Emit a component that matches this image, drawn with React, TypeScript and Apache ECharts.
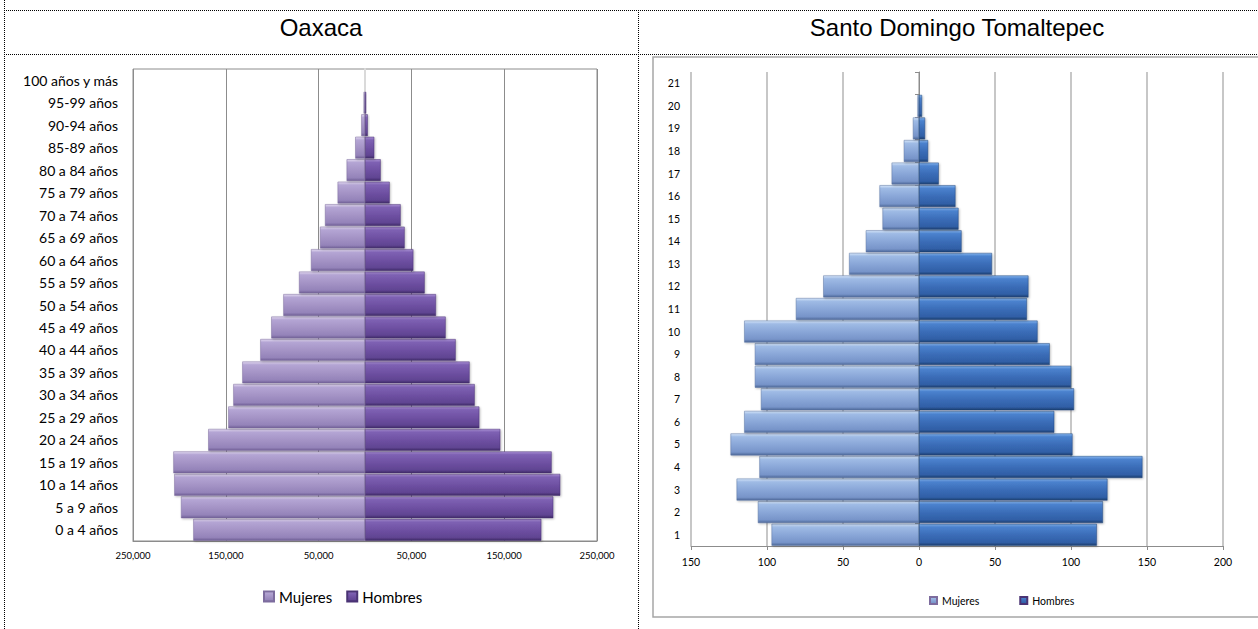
import React, { useEffect, useRef } from "react";
import * as echarts from "echarts";

// ---------- Data ----------
const oaxacaAges = [
  "0 a 4 años", "5 a 9 años", "10 a 14 años", "15 a 19 años", "20 a 24 años",
  "25 a 29 años", "30 a 34 años", "35 a 39 años", "40 a 44 años", "45 a 49 años",
  "50 a 54 años", "55 a 59 años", "60 a 64 años", "65 a 69 años", "70 a 74 años",
  "75 a 79 años", "80 a 84 años", "85-89 años", "90-94 años", "95-99 años", "100 años y más",
];
const oaxacaMujeres = [
  185000, 198300, 205500, 206500, 168900, 147300, 141900, 132200, 112800, 101000,
  88000, 71100, 58200, 48500, 43100, 29500, 19800, 10500, 4000, 1500, 400,
];
const oaxacaHombres = [
  190000, 202900, 210400, 201100, 145800, 123200, 118200, 112700, 97700, 86900,
  76500, 64300, 52100, 42700, 38400, 26600, 16900, 10000, 3000, 1200, 200,
];

const tomCats = [
  "1", "2", "3", "4", "5", "6", "7", "8", "9", "10", "11",
  "12", "13", "14", "15", "16", "17", "18", "19", "20", "21",
];
const tomMujeres = [97, 106, 120, 105, 124, 115, 104, 108, 108, 115, 81, 63, 46, 35, 24, 26, 18, 10, 4, 1, 0];
const tomHombres = [117, 121, 124, 147, 101, 89, 102, 100, 86, 78, 71, 72, 48, 28, 26, 24, 13, 6, 4, 2, 0];

const leftTitle = "Oaxaca";
const rightTitle = "Santo Domingo Tomaltepec";

// ---------- Styles ----------
function grad(c: string[]) {
  return new echarts.graphic.LinearGradient(0, 0, 0, 1, [
    { offset: 0, color: c[0] },
    { offset: 0.14, color: c[1] },
    { offset: 0.5, color: c[2] },
    { offset: 0.86, color: c[3] },
    { offset: 1, color: c[4] },
  ]);
}
const oaxM = ["#e2d9f0", "#b4a5d4", "#a594c6", "#9483b9", "#6f5e95"];
const oaxH = ["#a98fd4", "#7e61b3", "#6f51a3", "#604492", "#3e2a66"];
const tomM = ["#d6e6fa", "#9fbbe5", "#8aa7d8", "#7794c9", "#4d6898"];
const tomH = ["#85b5ef", "#4b82ce", "#3b6db8", "#305fa6", "#1c3e6f"];

const FONT = "Lato, 'Open Sans', sans-serif";

export default function App() {
  const ref = useRef<HTMLDivElement>(null);

  useEffect(() => {
    if (!ref.current) return;
    const chart = echarts.init(ref.current, undefined, { renderer: "svg" });

    const shadow = {
      shadowBlur: 2,
      shadowColor: "rgba(0,0,0,0.25)",
      shadowOffsetX: 1,
      shadowOffsetY: 1,
    };

    const dotted = { stroke: "#000", lineWidth: 1, lineDash: [1, 1] };

    const option: any = {
      animation: false,
      textStyle: { fontFamily: FONT },
      graphic: [
        { type: "line", shape: { x1: 4.5, y1: 0, x2: 4.5, y2: 629 }, style: dotted },
        { type: "line", shape: { x1: 638.5, y1: 10, x2: 638.5, y2: 629 }, style: dotted },
        { type: "line", shape: { x1: 4, y1: 10.5, x2: 1258, y2: 10.5 }, style: dotted },
        { type: "line", shape: { x1: 4, y1: 54.5, x2: 1258, y2: 54.5 }, style: dotted },
        {
          type: "rect",
          shape: { x: 653, y: 57, width: 640, height: 560 },
          style: { fill: "transparent", stroke: "#a6a6a6", lineWidth: 1.5 },
          silent: true,
        },
        {
          type: "text",
          x: 321,
          y: 27,
          style: {
            text: leftTitle,
            fontFamily: "'Liberation Sans', Arial, sans-serif",
            fontSize: 24,
            fill: "#000",
            align: "center",
            verticalAlign: "middle",
          },
        },
        {
          type: "text",
          x: 957,
          y: 27,
          style: {
            text: rightTitle,
            fontFamily: "'Liberation Sans', Arial, sans-serif",
            fontSize: 24,
            fill: "#000",
            align: "center",
            verticalAlign: "middle",
          },
        },
      ],
      legend: [
        {
          left: 258,
          top: 584,
          icon: "rect",
          itemWidth: 10,
          itemHeight: 10,
          itemGap: 14,
          textStyle: { fontSize: 15, color: "#000", fontFamily: FONT },
          data: [
            { name: "Mujeres", itemStyle: { color: grad(oaxM) } },
            { name: "Hombres", itemStyle: { color: grad(oaxH) } },
          ],
        },
        {
          left: 924,
          top: 590,
          icon: "rect",
          itemWidth: 7,
          itemHeight: 7,
          itemGap: 40,
          textStyle: { fontSize: 10.5, color: "#000", fontFamily: FONT },
          data: [
            { name: "Mujeres", itemStyle: { color: grad(tomM) } },
            { name: "Hombres", itemStyle: { color: grad(tomH) } },
          ],
        },
      ],
      grid: [
        {
          left: 133,
          top: 69,
          width: 464,
          height: 472,
          show: true,
          borderColor: "#8c8c8c",
          borderWidth: 1,
          backgroundColor: "transparent",
        },
        { left: 691, top: 72, width: 532, height: 474 },
      ],
      xAxis: [
        {
          type: "value",
          gridIndex: 0,
          min: -250000,
          max: 250000,
          interval: 100000,
          axisLine: { show: true, onZero: false, lineStyle: { color: "#8c8c8c" } },
          axisTick: { show: false },
          splitLine: { show: true, lineStyle: { color: "#8c8c8c", width: 1 } },
          axisLabel: {
            formatter: (v: number) => Math.abs(v).toLocaleString("en-US"),
            fontSize: 9.5,
            color: "#000",
            margin: 9,
            fontFamily: FONT,
          },
        },
        {
          type: "value",
          gridIndex: 1,
          min: -150,
          max: 200,
          interval: 50,
          axisLine: { show: true, onZero: false, lineStyle: { color: "#8c8c8c" } },
          axisTick: { show: true, length: 4, lineStyle: { color: "#8c8c8c" } },
          splitLine: { show: true, lineStyle: { color: "#b5b5b5", width: 1.5 } },
          axisLabel: {
            formatter: (v: number) => String(Math.abs(v)),
            fontSize: 10.5,
            color: "#000",
            margin: 10,
            fontFamily: FONT,
          },
        },
      ],
      yAxis: [
        {
          type: "category",
          gridIndex: 0,
          data: oaxacaAges,
          position: "left",
          axisLine: { show: false, onZero: false },
          axisTick: { show: false },
          axisLabel: { fontSize: 14, color: "#000", margin: 15, fontFamily: FONT },
        },
        {
          type: "category",
          gridIndex: 0,
          data: oaxacaAges,
          position: "left",
          axisLine: { show: true, onZero: true, lineStyle: { color: "#dadada", width: 2 } },
          axisTick: { show: false },
          axisLabel: { show: false },
        },
        {
          type: "category",
          gridIndex: 1,
          data: tomCats,
          position: "left",
          axisLine: { show: false, onZero: false },
          axisTick: { show: false },
          axisLabel: { fontSize: 10.5, color: "#000", margin: 11, fontFamily: FONT },
        },
        {
          type: "category",
          gridIndex: 1,
          data: tomCats,
          position: "left",
          axisLine: { show: true, onZero: true, lineStyle: { color: "#8c8c8c", width: 1 } },
          axisTick: { show: true, length: 4, lineStyle: { color: "#8c8c8c" } },
          axisLabel: { show: false },
        },
      ],
      series: [
        {
          name: "Mujeres",
          type: "bar",
          xAxisIndex: 0,
          yAxisIndex: 0,
          data: oaxacaMujeres.map((v) => -v),
          barGap: "-100%",
          barCategoryGap: "3%",
          itemStyle: { color: grad(oaxM), borderColor: "#7d6c9e", borderWidth: 0.5, ...shadow },
        },
        {
          name: "Hombres",
          type: "bar",
          xAxisIndex: 0,
          yAxisIndex: 0,
          data: oaxacaHombres,
          barGap: "-100%",
          barCategoryGap: "3%",
          itemStyle: { color: grad(oaxH), borderColor: "#4a3374", borderWidth: 0.5, ...shadow },
        },
        {
          name: "Mujeres",
          type: "bar",
          xAxisIndex: 1,
          yAxisIndex: 2,
          data: tomMujeres.map((v) => -v),
          barGap: "-100%",
          barCategoryGap: "3%",
          itemStyle: { color: grad(tomM), borderColor: "#5a74a3", borderWidth: 0.5, ...shadow },
        },
        {
          name: "Hombres",
          type: "bar",
          xAxisIndex: 1,
          yAxisIndex: 2,
          data: tomHombres,
          barGap: "-100%",
          barCategoryGap: "3%",
          itemStyle: { color: grad(tomH), borderColor: "#22477d", borderWidth: 0.5, ...shadow },
        },
      ],
    };

    chart.setOption(option);
    return () => chart.dispose();
  }, []);

  return (
    <div
      ref={ref}
      style={{ position: "absolute", left: 0, top: 0, width: 1258, height: 629, background: "#fff" }}
    />
  );
}
